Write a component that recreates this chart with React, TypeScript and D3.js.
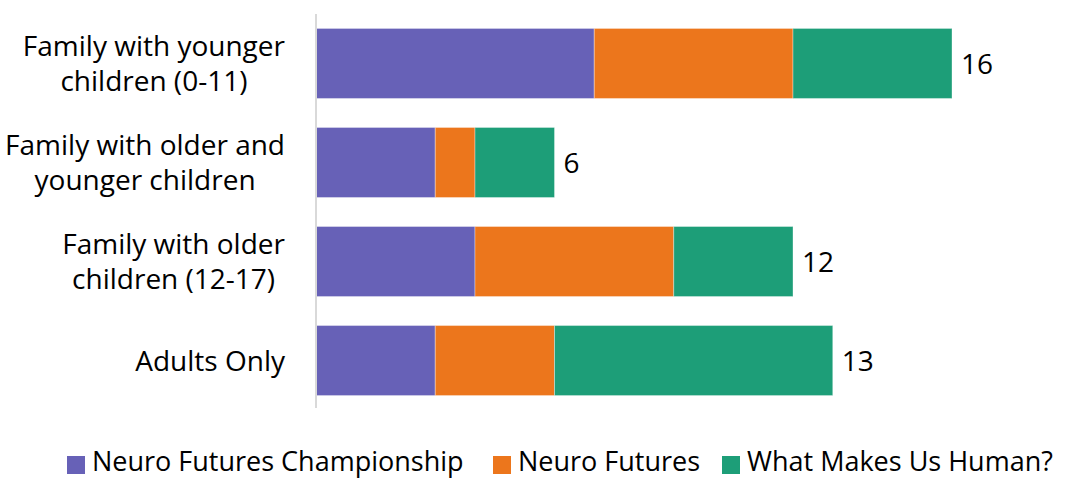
import React, { useEffect, useRef } from "react";
import * as d3 from "d3";

const categories = [
  "Family with younger\nchildren (0-11)",
  "Family with older and\nyounger children",
  "Family with older\nchildren (12-17)",
  "Adults Only",
];
const seriesNames = ["Neuro Futures Championship", "Neuro Futures", "What Makes Us Human?"];
const championship = [7, 3, 4, 3];
const futures = [5, 1, 5, 3];
const human = [4, 2, 3, 7];
const colors = ["#6761b7", "#ec761c", "#1d9e78"];

const W = 1074;
const H = 479;
const FONT = "'Open Sans', sans-serif";
const FS = 28;
const LEGEND_FS = 27;

export default function App() {
  const ref = useRef<SVGSVGElement>(null);

  useEffect(() => {
    const svg = d3.select(ref.current);
    svg.selectAll("*").remove();

    const rows = categories.map((c, i) => ({
      cat: c,
      v: [championship[i], futures[i], human[i]],
    }));

    const x = d3.scaleLinear().domain([0, 16]).range([316, 952]);
    const y = d3
      .scaleBand<string>()
      .domain(categories)
      .range([14, 410])
      .paddingInner(0.293)
      .paddingOuter(0.146);

    const stack = d3
      .stack<{ cat: string; v: number[] }, number>()
      .keys([0, 1, 2])
      .value((d, k) => d.v[k]);
    const layers = stack(rows);

    layers.forEach((layer, li) => {
      svg
        .append("g")
        .selectAll("rect")
        .data(layer)
        .join("rect")
        .attr("x", (d) => x(d[0]))
        .attr("y", (d) => y(d.data.cat)!)
        .attr("width", (d) => x(d[1]) - x(d[0]))
        .attr("height", y.bandwidth())
        .attr("fill", colors[li])
        .attr("stroke", "#ffffff")
        .attr("stroke-opacity", 0.35)
        .attr("stroke-width", 1);
    });

    // vertical category axis
    svg
      .append("line")
      .attr("x1", 316)
      .attr("x2", 316)
      .attr("y1", 14)
      .attr("y2", 408)
      .attr("stroke", "#d9d9d9")
      .attr("stroke-width", 2);

    // total labels
    svg
      .append("g")
      .selectAll("text")
      .data(rows)
      .join("text")
      .attr("x", (d) => x(d3.sum(d.v)) + 9)
      .attr("y", (d) => y(d.cat)! + y.bandwidth() / 2)
      .attr("dy", "0.36em")
      .attr("font-family", FONT)
      .attr("font-size", FS)
      .attr("fill", "#000")
      .text((d) => d3.sum(d.v));

    // category labels: block right-aligned, lines centred within block
    const lineH = 35;
    rows.forEach((r) => {
      const lines = r.cat.split("\n");
      const g = svg.append("g");
      const texts = lines.map((ln, i) =>
        g
          .append("text")
          .attr("font-family", FONT)
          .attr("font-size", FS)
          .attr("fill", "#000")
          .attr("text-anchor", "middle")
          .attr(
            "y",
            y(r.cat)! + y.bandwidth() / 2 + (i - (lines.length - 1) / 2) * lineH
          )
          .attr("dy", "0.36em")
          .text(ln)
      );
      const maxW = d3.max(texts, (t) => (t.node() as SVGTextElement).getComputedTextLength()) || 0;
      texts.forEach((t) => t.attr("x", 285 - maxW / 2));
    });

    // legend
    const legendX = [67, 493, 722];
    const lg = svg.append("g");
    seriesNames.forEach((name, i) => {
      lg.append("rect")
        .attr("x", legendX[i])
        .attr("y", 456)
        .attr("width", 18)
        .attr("height", 18)
        .attr("fill", colors[i]);
      lg.append("text")
        .attr("x", legendX[i] + 25)
        .attr("y", 461)
        .attr("dy", "0.36em")
        .attr("font-family", FONT)
        .attr("font-size", LEGEND_FS)
        .attr("fill", "#000")
        .text(name);
    });
  }, []);

  return (
    <svg
      ref={ref}
      width={W}
      height={H}
      style={{ position: "absolute", left: 0, top: 0, background: "#fff" }}
    />
  );
}
